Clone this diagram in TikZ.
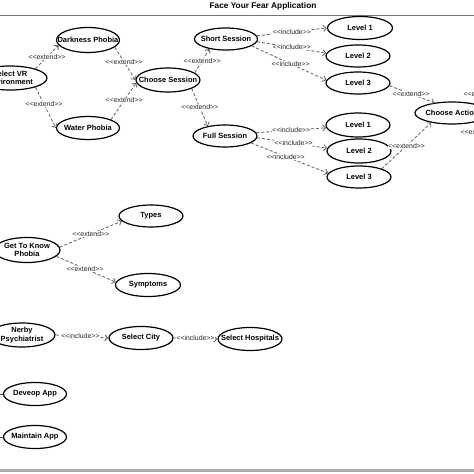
\documentclass[tikz,border=0pt]{standalone}
\usepackage{fontspec}
\setmainfont{Liberation Sans}
\usetikzlibrary{shapes.geometric,arrows.meta}
\newcommand{\extlbl}{<{}<extend>{}>}
\newcommand{\inclbl}{<{}<include>{}>}
\begin{document}
\begin{tikzpicture}[x=1pt,y=-1pt,
  txt/.style={font=\fontsize{7.5}{8.2}\selectfont\bfseries,align=center,inner sep=0pt,text=black},
  uc/.style={ellipse,draw=black,line width=1.2pt,fill=white,inner sep=0pt,
             minimum width=64pt,minimum height=23pt,label={[txt]center:#1}},
  dep/.style={draw=black!60,dash pattern=on 3pt off 2pt,line width=0.85pt,
              -{Straight Barb[length=3pt,width=6pt]}},
  lbl/.style={font=\fontsize{6.9}{7}\selectfont,fill=white,inner sep=0.4pt,text=black!85},
  assoc/.style={draw=black!70,line width=0.7pt}]
\useasboundingbox (0,0) rectangle (474,474);
\clip (0,0) rectangle (474,474);

% frame
\node[font=\fontsize{8.3}{9}\selectfont\bfseries] (title) at (263,6) {Face Your Fear Application};
\draw[black!55,line width=0.9pt] (0,15) -- (474,15);
\fill[black!32] (0,469) rectangle (474,472);

% use cases
\node[uc={Select VR\\Environment},minimum width=74pt,minimum height=24pt] (svr) at (10,78) {};
\node[uc={Darkness Phobia},minimum width=63pt,minimum height=25pt] (dark) at (88,40) {};
\node[uc={Water Phobia},minimum width=63pt] (water) at (88,128) {};
\node[uc={Choose Session},minimum height=24pt] (cs) at (168,80) {};
\node[uc={Short Session},minimum width=63pt,minimum height=22pt] (short) at (226,39) {};
\node[uc={Full Session},minimum height=22pt] (full) at (225,136) {};
\node[uc={Level 1},minimum width=65pt] (l1a) at (360,28) {};
\node[uc={Level 2},minimum height=22pt] (l2a) at (358,56) {};
\node[uc={Level 3},minimum height=22pt] (l3a) at (358,83) {};
\node[uc={Choose Action},minimum width=74pt,minimum height=22pt] (ca) at (452,113) {};
\node[uc={Level 1},minimum height=24pt] (l1b) at (358,125) {};
\node[uc={Level 2},minimum height=24pt] (l2b) at (359,151) {};
\node[uc={Level 3},minimum height=22pt] (l3b) at (359,177) {};
\node[uc={Get To Know\\Phobia},minimum width=66pt,minimum height=25pt] (gtk) at (27,250) {};
\node[uc={Types},minimum height=22pt] (types) at (151,216) {};
\node[uc={Symptoms},minimum width=65pt] (symp) at (148,285) {};
\node[uc={Nerby\\Psychiatrist},minimum width=66pt,minimum height=24pt] (nerby) at (22,335) {};
\node[uc={Select City}] (city) at (141,338) {};
\node[uc={Select Hospitals}] (hosp) at (250,339) {};
\node[uc={Deveop App},minimum width=63pt] (dev) at (35,394) {};
\node[uc={Maintain App},minimum width=63pt] (maint) at (35,437) {};

% actor associations entering from the left edge
\coordinate (devA) at (-10,394);
\coordinate (maintA) at (-10,437);
\draw[assoc] (devA) -- (dev);
\draw[assoc] (maintA) -- (maint);

% connectors
\draw[dep] (svr.20) -- node[lbl,pos=0.5] (e1) {\extlbl} (dark.190);
\draw[dep] (svr.-20) -- node[lbl,pos=0.42] (e2) {\extlbl} (water.180);
\draw[dep] (dark.-15) -- node[lbl,pos=0.45] (e3) {\extlbl} (cs.180);
\draw[dep] (water.20) -- node[lbl,pos=0.52] (e4) {\extlbl} (cs.185);
\draw[dep] (cs.15) -- node[lbl,pos=0.5] (e5) {\extlbl} (short.211);
\draw[dep] (cs.-20) -- node[lbl,pos=0.5] (e6) {\extlbl} (full.150);

\draw[dep] (short.6) -- node[lbl,pos=0.5] (i1) {\inclbl} (l1a.180);
\draw[dep] (short.-5) -- node[lbl,pos=0.5] (i2) {\inclbl} (l2a.175);
\draw[dep] (short.-15) -- node[lbl,pos=0.52] (i3) {\inclbl} (l3a.175);
\draw[dep] (l3a.-5) -- node[lbl,pos=0.48] (e7) {\extlbl} (ca.150);

\draw[dep] (full.6) -- node[lbl,pos=0.5] (i4) {\inclbl} (l1b.185);
\draw[dep] (full.-3) -- node[lbl,pos=0.52] (i5) {\inclbl} (l2b.175);
\draw[dep] (full.-15) -- node[lbl,pos=0.45] (i6) {\inclbl} (l3b.173);
\draw[dep] (l3b.20) -- node[lbl,pos=0.5] (e8) {\extlbl} (ca.205);

\draw[dep] (gtk.5) -- node[lbl,pos=0.5] (e9) {\extlbl} (types.190);
\draw[dep] (gtk.-12) -- node[lbl,pos=0.48] (e10) {\extlbl} (symp.175);

\draw[dep] (nerby.0) -- node[lbl,pos=0.47] (i7) {\inclbl} (city.180);
\draw[dep] (city.0) -- node[lbl,pos=0.5] (i8) {\inclbl} (hosp.180);

% labels of connectors leaving the picture on the right
\node[lbl,anchor=west] (offa) at (463,94) {\extlbl};
\node[lbl,anchor=west] (offb) at (460,132) {\extlbl};
\end{tikzpicture}
\end{document}
